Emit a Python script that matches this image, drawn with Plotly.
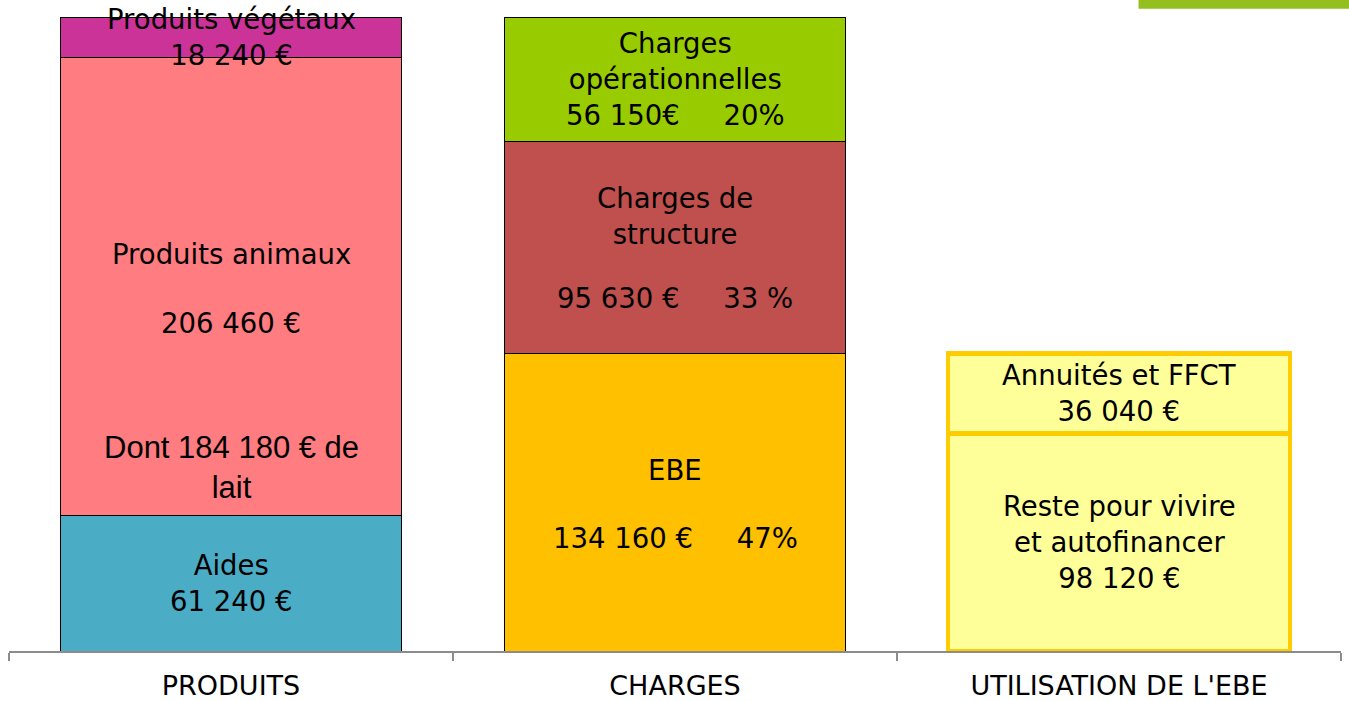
import plotly.graph_objects as go

categories = ["PRODUITS", "CHARGES", "UTILISATION DE L'EBE"]

# produits
aides = 61240
produits_animaux = 206460
produits_vegetaux = 18240
# charges
ebe = 134160
charges_structure = 95630
charges_operationnelles = 56150
# utilisation de l'EBE
reste = 98120
annuites = 36040

total = aides + produits_animaux + produits_vegetaux

verdana = "DejaVu Sans"
fsize = 27.5

fig = go.Figure()

def add_bar(cat, val, color, line_color="black", line_width=1):
    fig.add_trace(go.Bar(
        x=[cat], y=[val], width=0.77,
        marker=dict(color=color, line=dict(color=line_color, width=line_width)),
        showlegend=False, hoverinfo="y"))

add_bar(categories[0], aides, "#4BACC6")
add_bar(categories[0], produits_animaux, "#FF7C80")
add_bar(categories[0], produits_vegetaux, "#CC3399")
add_bar(categories[1], ebe, "#FFC000")
add_bar(categories[1], charges_structure, "#C0504D")
add_bar(categories[1], charges_operationnelles, "#99CC00")
add_bar(categories[2], reste, "#FFFF99", "#FFCC00", 4.5)
add_bar(categories[2], annuites, "#FFFF99", "#FFCC00", 4.5)

def note(cat, y, text, font=verdana, size=fsize):
    fig.add_annotation(x=cat, y=y, text=text, showarrow=False,
                       font=dict(family=font, size=size, color="black"),
                       xanchor="center", yanchor="middle")

# produits
note(categories[0], aides / 2, "Aides<br>61 240 €")
base = aides
note(categories[0], base + produits_animaux * 0.57, "Produits animaux")
note(categories[0], base + produits_animaux * 0.42, "206 460 €")
note(categories[0], base + produits_animaux * 0.105, "Dont 184 180 € de<br>lait",
     font="Liberation Sans", size=31)
base += produits_animaux
note(categories[0], base + produits_vegetaux / 2, "Produits végétaux<br>18 240 €")

# charges
note(categories[1], ebe * 0.61, "EBE")
note(categories[1], ebe * 0.38, "134 160 €     47%")
base = ebe
note(categories[1], base + charges_structure * 0.65, "Charges de<br>structure")
note(categories[1], base + charges_structure * 0.26, "95 630 €     33 %")
base += charges_structure
note(categories[1], base + charges_operationnelles / 2,
     "Charges<br>opérationnelles<br>56 150€     20%")

# utilisation
note(categories[2], reste / 2, "Reste pour vivire<br>et autofinancer<br>98 120 €")
note(categories[2], reste + annuites / 2, "Annuités et FFCT<br>36 040 €")

fig.add_shape(type="rect", xref="paper", yref="paper",
              x0=0.848, x1=1.01, y0=1.013, y1=1.04,
              fillcolor="#93C01F", line=dict(width=0))

fig.update_layout(
    barmode="stack",
    width=1349, height=701,
    margin=dict(l=9, r=8, t=17, b=50),
    plot_bgcolor="white", paper_bgcolor="white",
    font=dict(family=verdana, size=fsize, color="black"),
)
fig.update_xaxes(
    range=[-0.5, 2.5], showline=True, linecolor="#8C8C8C", linewidth=1.5,
    ticks="outside", tickson="boundaries", ticklen=8, tickcolor="#8C8C8C",
    tickwidth=1.5, showgrid=False, tickfont=dict(family=verdana, size=27),
    ticklabelstandoff=10, automargin=False,
)
fig.update_yaxes(range=[0, total], visible=False, showgrid=False)

fig.write_html("out.html", config={"displayModeBar": False},
               post_script="document.body.style.margin='0px';")
